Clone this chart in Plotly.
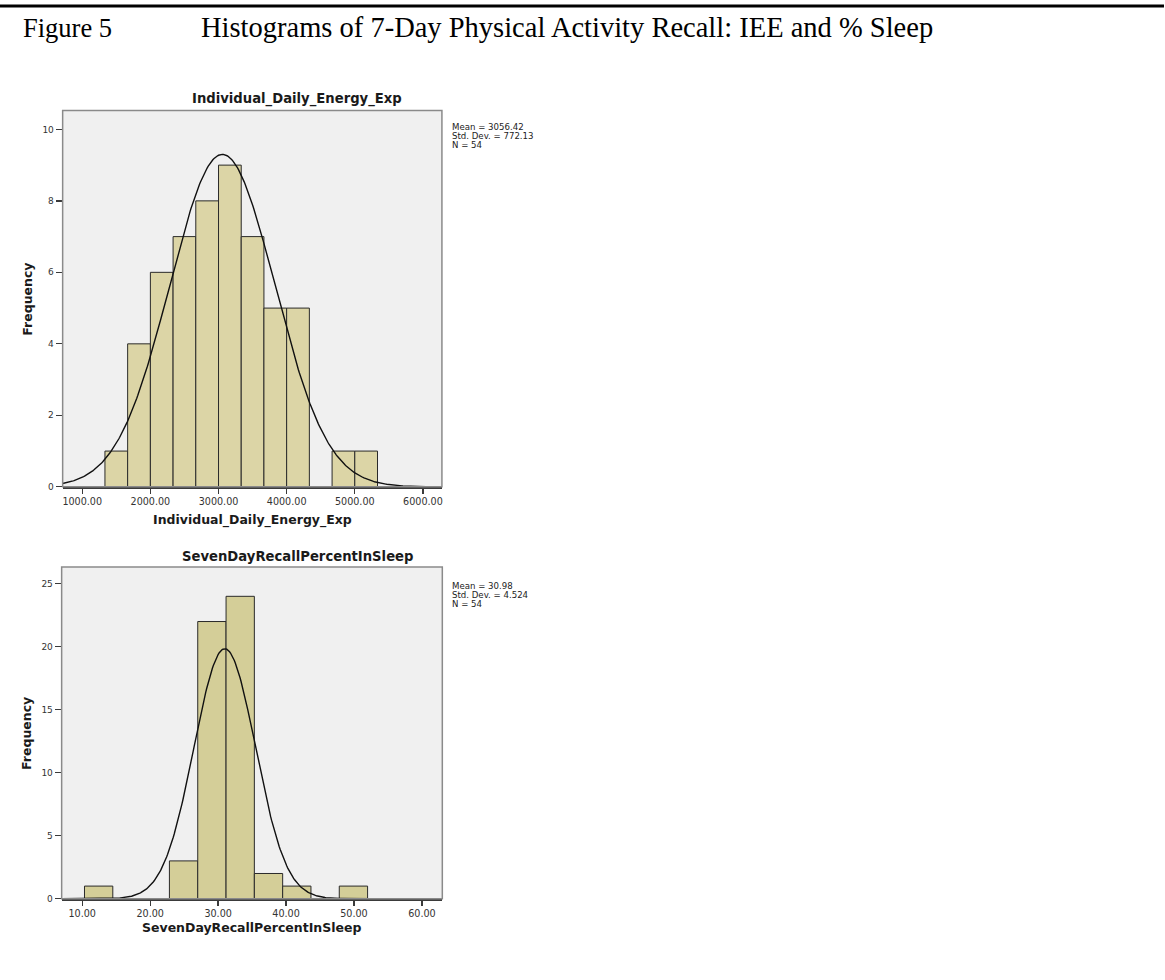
import numpy as np
import plotly.graph_objects as go

# ---------------- data ----------------
iee_bin_edges = [1333.33, 1666.67, 2000.00, 2333.33, 2666.67, 3000.00, 3333.33,
                 3666.67, 4000.00, 4333.33, 4666.67, 5000.00, 5333.33]
iee_counts = [1, 4, 6, 7, 8, 9, 7, 5, 5, 0, 1, 1]
iee_mean, iee_sd, iee_n = 3056.42, 772.13, 54
iee_xticks = [1000, 2000, 3000, 4000, 5000, 6000]
iee_yticks = [0, 2, 4, 6, 8, 10]

sleep_bin_edges = [10.333, 14.5, 18.667, 22.833, 27.0, 31.167, 35.333,
                   39.5, 43.667, 47.833, 52.0]
sleep_counts = [1, 0, 0, 3, 22, 24, 2, 1, 0, 1]
sleep_mean, sleep_sd, sleep_n = 30.98, 4.524, 54
sleep_xticks = [10, 20, 30, 40, 50, 60]
sleep_yticks = [0, 5, 10, 15, 20, 25]

header_left = "Figure 5"
header_right = "Histograms of 7-Day Physical Activity Recall: IEE and % Sleep"

W, H = 1165, 980


def px(x):
    return x / W


def py(y):
    return 1 - y / H


fig = go.Figure()


def add_hist(edges, counts, mean, sd, n, xaxis, yaxis, xrange, color):
    edges = np.array(edges)
    lefts = edges[:-1]
    widths = np.diff(edges)
    centers = lefts + widths / 2
    fig.add_trace(go.Bar(
        x=centers, y=counts, width=widths,
        marker=dict(color=color, line=dict(color="#2a2a2a", width=1)),
        xaxis=xaxis, yaxis=yaxis, showlegend=False, hoverinfo="skip"))
    bw = widths.mean()
    xs = np.linspace(xrange[0], xrange[1], 400)
    ys = n * bw * np.exp(-0.5 * ((xs - mean) / sd) ** 2) / (sd * np.sqrt(2 * np.pi))
    fig.add_trace(go.Scatter(
        x=xs, y=ys, mode="lines", line=dict(color="#111111", width=1.4),
        xaxis=xaxis, yaxis=yaxis, showlegend=False, hoverinfo="skip",
        cliponaxis=True))


top_xr = [712.6, 6278.6]
bot_xr = [6.97, 63.0]
add_hist(iee_bin_edges, iee_counts, iee_mean, iee_sd, iee_n, "x", "y", top_xr, "#dcd5a6")
add_hist(sleep_bin_edges, sleep_counts, sleep_mean, sleep_sd, sleep_n, "x2", "y2", bot_xr, "#d4ce98")

tickfont_x = dict(family="DejaVu Sans", size=9.6, color="#333333")
tickfont_y = dict(family="DejaVu Sans", size=9, color="#333333")

common_x = dict(showgrid=False, zeroline=False, showline=True, linecolor="#3a3a3a",
                linewidth=2, ticks="outside", ticklen=5, tickwidth=1.3,
                tickcolor="#3a3a3a", tickfont=tickfont_x, tickformat=".2f",
                fixedrange=True)
common_y = dict(showgrid=False, zeroline=False, showline=False, ticks="outside",
                ticklen=6, tickwidth=1.3, tickcolor="#3a3a3a", tickfont=tickfont_y,
                fixedrange=True)

fig.update_layout(
    width=W, height=H, autosize=False,
    margin=dict(l=0, r=0, t=0, b=0),
    paper_bgcolor="white", plot_bgcolor="#f0f0f0",
    bargap=0,
    xaxis=dict(domain=[px(62.7), px(442.3)], range=top_xr, tickvals=iee_xticks,
               anchor="y", **common_x),
    yaxis=dict(domain=[py(489.3), py(111)], range=[0, 10.53], tickvals=iee_yticks,
               anchor="x", **common_y),
    xaxis2=dict(domain=[px(61.7), px(442.7)], range=bot_xr, tickvals=sleep_xticks,
                anchor="y2", **common_x),
    yaxis2=dict(domain=[py(903.3), py(570)], range=[0, 26.32], tickvals=sleep_yticks,
                anchor="x2", **common_y),
)

shapes = []
for xr, yr in (("x domain", "y domain"), ("x2 domain", "y2 domain")):
    shapes.append(dict(type="rect", xref=xr, yref=yr, x0=0, x1=1, y0=0, y1=1,
                       line=dict(color="#8a8a8a", width=1.5), layer="above"))
# header rule
shapes.append(dict(type="line", xref="paper", yref="paper", x0=0, x1=1,
                   y0=py(6), y1=py(6), line=dict(color="black", width=3)))
fig.update_layout(shapes=shapes)

ann = []
title_font = dict(family="DejaVu Sans", size=13.2, color="#1a1a1a", weight="bold")
axis_font = dict(family="DejaVu Sans", size=12.5, color="#1a1a1a", weight="bold")
stat_font = dict(family="DejaVu Sans", size=8.6, color="#222222")


def a(text, x, y, font, xanchor="center", yanchor="middle", angle=0):
    ann.append(dict(text=text, x=px(x), y=py(y), xref="paper", yref="paper",
                    showarrow=False, font=font, xanchor=xanchor, yanchor=yanchor,
                    textangle=angle))


# chart titles
a("Individual_Daily_Energy_Exp", 297.5, 99.5, title_font)
a("SevenDayRecallPercentInSleep", 297.5, 559.3, title_font)
# x axis titles
a("Individual_Daily_Energy_Exp", 252.5, 522.3, axis_font)
a("SevenDayRecallPercentInSleep", 252.2, 932.7, axis_font)
# y axis titles
a("Frequency", 28, 300.2, axis_font, angle=-90)
a("Frequency", 27, 736.7, axis_font, angle=-90)
# statistics boxes
for i, t in enumerate([f"Mean = {iee_mean:.2f}", f"Std. Dev. = {iee_sd:.2f}", f"N = {iee_n}"]):
    a(t, 450, 127.3 + 9 * i, stat_font, xanchor="left")
for i, t in enumerate([f"Mean = {sleep_mean:.2f}", f"Std. Dev. = {sleep_sd:.3f}", f"N = {sleep_n}"]):
    a(t, 450, 589.3 + 8.7 * i, stat_font, xanchor="left")

# header
a(header_left, 21, 28, dict(family="Liberation Serif", size=26.5, color="black"), xanchor="left")
a(header_right, 199, 28, dict(family="Liberation Serif", size=28.5, color="black"), xanchor="left")

fig.update_layout(annotations=ann)

fig.write_html("out.html", config={"displayModeBar": False, "staticPlot": True})
